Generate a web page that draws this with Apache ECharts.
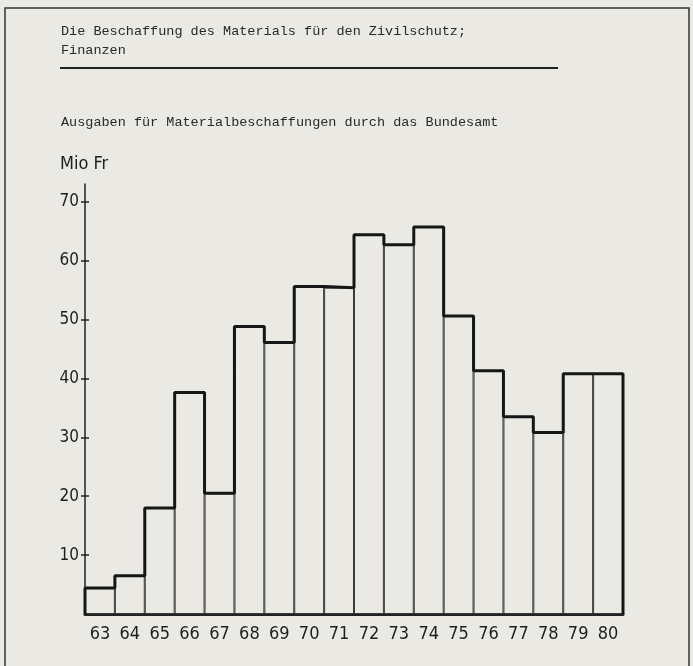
<!DOCTYPE html>
<html>
<head>
<meta charset="utf-8">
<script src="https://cdn.jsdelivr.net/npm/echarts@6/dist/echarts.min.js"></script>
<style>
  html, body { margin: 0; padding: 0; background: #eae9e3; }
  #chart { width: 693px; height: 666px; }
</style>
</head>
<body>
<div id="chart"></div>
<script>
// Jahre und Ausgaben (Mio Fr)
var years = ['63','64','65','66','67','68','69','70','71','72','73','74','75','76','77','78','79','80'];
var ausgaben = [4.4, 6.5, 18.0, 37.6, 20.5, 48.8, 46.1, 55.6, 55.4, 64.4, 62.7, 65.7, 50.6, 41.3, 33.5, 30.8, 40.8, 40.8];
var yTicks = [10, 20, 30, 40, 50, 60, 70];

// Treppenlinie (Umriss) aus den Werten
var outline = [[0, 0]];
ausgaben.forEach(function (v, i) {
  outline.push([i, v]);
});
outline.push([ausgaben.length, ausgaben[ausgaben.length - 1]]);
outline.push([ausgaben.length, 0]);

var mono = "'Liberation Mono', 'DejaVu Sans Mono', monospace";
var narrow = "'DejaVu Sans Condensed', 'Liberation Sans Narrow', sans-serif";
var ink = '#222';

var myChart = echarts.init(document.getElementById('chart'));
myChart.setOption({
  backgroundColor: '#eae9e3',
  animation: false,
  grid: { left: 85, right: 70, top: 184, bottom: 52 },
  xAxis: [{
    type: 'category',
    data: years,
    boundaryGap: true,
    axisLine: { lineStyle: { color: ink, width: 3 } },
    axisTick: { show: false },
    axisLabel: { color: '#1e1e1e', fontFamily: narrow, fontSize: 18, margin: 11 }
  }, {
    type: 'value',
    min: 0,
    max: years.length,
    show: false
  }],
  yAxis: [{
    type: 'value',
    min: 0,
    max: 73,
    splitLine: { show: false },
    axisLine: { show: true, lineStyle: { color: ink, width: 1.5 } },
    axisTick: { show: true, length: 4, customValues: yTicks, lineStyle: { color: ink, width: 1.5 } },
    axisLabel: { customValues: yTicks, color: '#1e1e1e', fontFamily: narrow, fontSize: 17, margin: 6 }
  }, {
    type: 'value',
    min: 0,
    max: 73,
    position: 'left',
    offset: 0,
    splitLine: { show: false },
    axisLine: { show: true, lineStyle: { color: 'rgba(0,0,0,0)' } },
    axisTick: { show: true, inside: true, length: 4, customValues: yTicks, lineStyle: { color: ink, width: 1.5 } },
    axisLabel: { show: true, customValues: yTicks, color: 'rgba(0,0,0,0)', fontSize: 1 }
  }],
  series: [{
    type: 'bar',
    data: ausgaben,
    xAxisIndex: 0,
    yAxisIndex: 0,
    barWidth: '100%',
    itemStyle: { color: 'rgba(0,0,0,0)', borderColor: '#3a3a3a', borderWidth: 1 },
    silent: true
  }, {
    type: 'line',
    data: outline,
    xAxisIndex: 1,
    yAxisIndex: 0,
    step: 'end',
    symbol: 'none',
    lineStyle: { color: '#161616', width: 3 },
    silent: true
  }, {
    // leere Serie, damit die zweite y-Achse gezeichnet wird
    type: 'line',
    data: [],
    xAxisIndex: 1,
    yAxisIndex: 1
  }],
  graphic: [
    { type: 'rect', shape: { x: 5, y: 8, width: 684, height: 700 }, style: { fill: 'none', stroke: '#333', lineWidth: 1.5 } },
    { type: 'text', left: 61, top: 24, style: { text: 'Die Beschaffung des Materials für den Zivilschutz;', font: '13.5px ' + mono, fill: '#2a2a2a' } },
    { type: 'text', left: 61, top: 43, style: { text: 'Finanzen', font: '13.5px ' + mono, fill: '#2a2a2a' } },
    { type: 'line', shape: { x1: 60, y1: 68, x2: 558, y2: 68 }, style: { stroke: '#222', lineWidth: 2 } },
    { type: 'text', left: 61, top: 115, style: { text: 'Ausgaben für Materialbeschaffungen durch das Bundesamt', font: '13.5px ' + mono, fill: '#2a2a2a' } },
    { type: 'text', left: 60, top: 155, style: { text: 'Mio Fr', font: '18px ' + narrow, fill: '#1e1e1e' } }
  ]
});
</script>
</body>
</html>
